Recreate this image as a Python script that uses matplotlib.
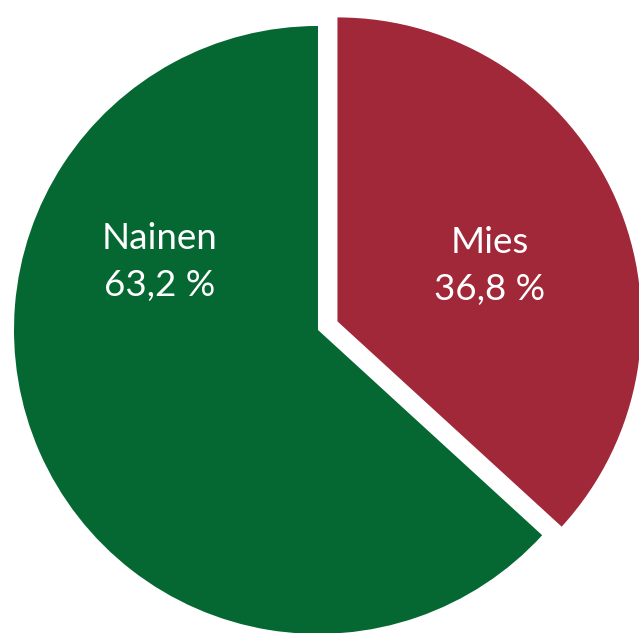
import matplotlib.pyplot as plt

labels = ['Mies', 'Nainen']
shares = [36.8, 63.2]
colors = ['#A02839', '#056833']
explode = [0.07, 0.0]

fig = plt.figure(figsize=(6.39, 6.33), dpi=100)
ax = fig.add_axes([0, 0, 1, 1])

wedges, _ = ax.pie(shares, colors=colors, explode=explode, startangle=90,
                   counterclock=False, radius=1.0,
                   wedgeprops=dict(linewidth=0))

ax.set_xlim(-1.046, 1.056)
ax.set_ylim(-0.997, 1.0855)
ax.set_aspect('auto')
ax.axis('off')

# label placement (data units, pie radius = 1)
label_pos = {'Mies': (0.566, 0.21), 'Nainen': (-0.52, 0.224)}
for name, val in zip(labels, shares):
    txt = '{}\n{} %'.format(name, ('%.1f' % val).replace('.', ','))
    x, y = label_pos[name]
    ax.text(x, y, txt, ha='center', va='center', color='white',
            fontsize=26.5, family='Lato', linespacing=1.5)

fig.savefig('out.png', dpi=100)
